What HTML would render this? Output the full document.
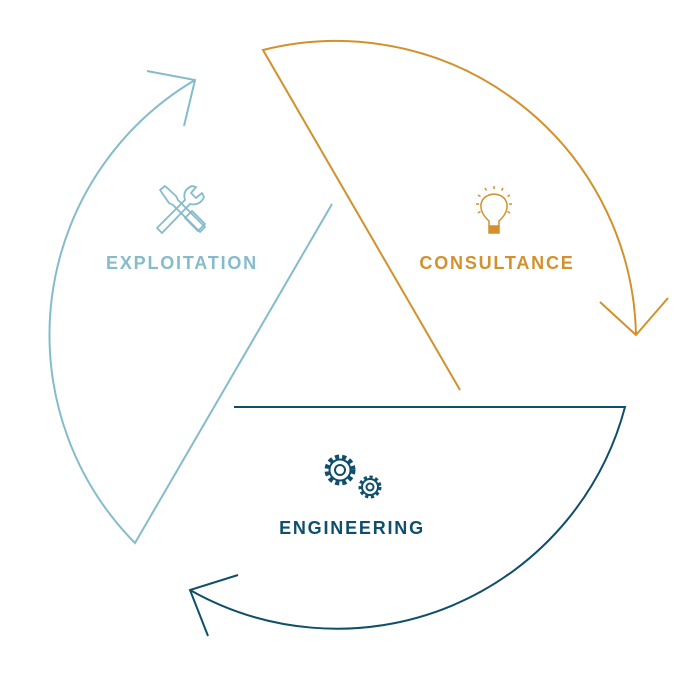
<!DOCTYPE html>
<html><head><style>
html,body{margin:0;padding:0;background:#fff;}
svg{display:block}
text{font-family:"Liberation Sans",sans-serif;font-weight:bold;font-size:18px;letter-spacing:1.8px;text-anchor:middle}
</style></head><body>
<svg width="690" height="686" viewBox="0 0 690 686" xmlns="http://www.w3.org/2000/svg" fill="none" stroke-width="2">
<g stroke="#d4902a">
<path d="M460 390 L263 50 A300 300 0 0 1 636 335"/>
<path d="M600 302 L636 335 L668 298"/>
</g>
<g stroke="#0f4f6b">
<path d="M234 407 L625 407 A298 298 0 0 1 190 590"/>
<path d="M238 575 L190 590 L208 636"/>
</g>
<g stroke="#84bccb">
<path d="M332 204 L135 543 A296 296 0 0 1 195 80"/>
<path d="M147 71 L195 80 L184 126"/>
</g>
<g stroke="#84bccb" stroke-width="1.8" stroke-linejoin="round">
<path d="M160 190 L165 186 L176 196 L178 200 L205 227 L200 232 L173 205 L169 203 Z"/>
<path d="M157 228 L185 200 Q182 190 192 186 L196 187 L191 193 L196 198 L202 193 L204 197 Q200 206 190 204 L162 233 Z"/>
<path d="M185 218 L192 211 L205 224 L198 231 Z"/>
</g>
<g stroke="#d4902a" stroke-width="1.5">
<path d="M489 221 Q480 213 481 204 Q483 195 494 194 Q505 195 507 204 Q508 213 499 221 L499 226 L489 226 Z"/>
<rect x="489" y="227" width="10" height="6" fill="#d4902a"/>
<path d="M494 186v3M485 188l1.5 2.5M503 188l-1.5 2.5M478 195l2.5 1.5M510 195l-2.5 1.5M476 204h3M509 204h3M478 213l2.5-1.5M510 213l-2.5-1.5"/>
</g>
<g stroke="#0f4f6b" stroke-width="2">
<circle cx="340" cy="470" r="13" stroke-dasharray="4 3" stroke-width="5"/>
<circle cx="340" cy="470" r="10" fill="#fff" stroke="none"/>
<circle cx="340" cy="470" r="10.5"/>
<circle cx="340" cy="470" r="5"/>
<circle cx="370" cy="487" r="9.5" stroke-dasharray="3 2.5" stroke-width="4"/>
<circle cx="370" cy="487" r="7.5" fill="#fff" stroke="none"/>
<circle cx="370" cy="487" r="8"/>
<circle cx="370" cy="487" r="3.5"/>
</g>
<text x="182" y="269" fill="#84bccb" stroke="none">EXPLOITATION</text>
<text x="497" y="269" fill="#d4902a" stroke="none">CONSULTANCE</text>
<text x="352" y="534" fill="#0f4f6b" stroke="none">ENGINEERING</text>
</svg>
</body></html>
